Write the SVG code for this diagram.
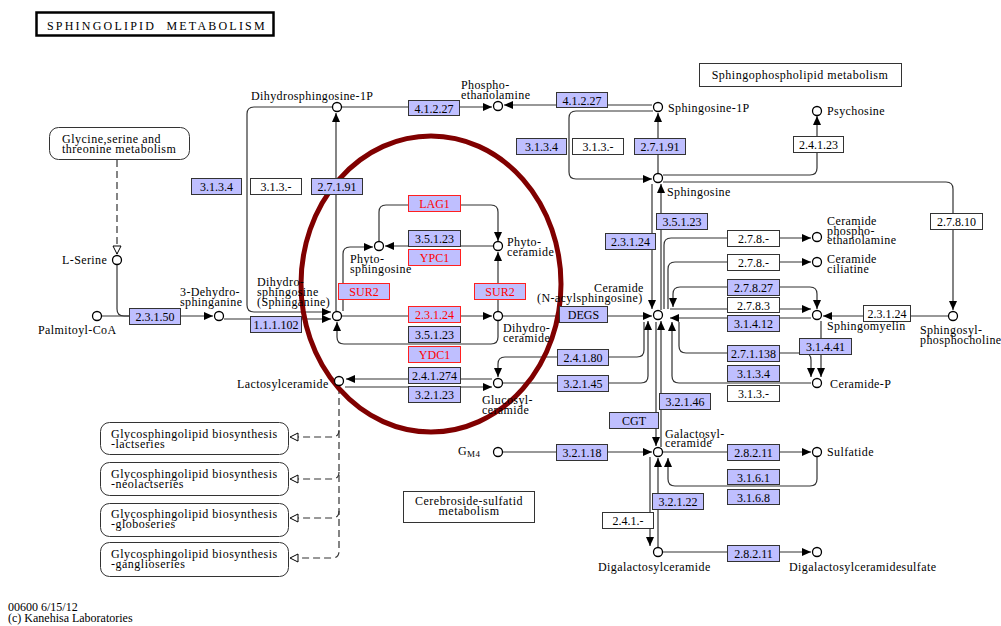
<svg xmlns="http://www.w3.org/2000/svg" width="1001" height="626" viewBox="0 0 1001 626">
<style>
text{font-family:"Liberation Serif","Times New Roman",serif;font-size:12px;fill:#000}
.e rect{fill:#bfbfff;stroke:#333;stroke-width:1}
.w rect{fill:#fff;stroke:#333;stroke-width:1}
.r rect{fill:#bfbfff;stroke:#ff2020;stroke-width:1}
.e text,.w text,.r text{text-anchor:middle}
.r text{fill:#ff0000}
.c circle{fill:#fff;stroke:#000;stroke-width:1.3}
.c text{letter-spacing:0.4px}
.m rect{fill:#fff;stroke:#333;stroke-width:1}
.m text{letter-spacing:0.5px}
.ln path{fill:none;stroke:#333;stroke-width:1.2}
.ln .d{stroke-dasharray:7 4}
.ln .ar{marker-end:url(#a)}
.ln .bi{marker-start:url(#a);marker-end:url(#a)}
.ln .ho{marker-end:url(#h)}
</style>
<defs>
<marker id="a" viewBox="0 0 9 8" refX="9" refY="4" markerWidth="9" markerHeight="8" markerUnits="userSpaceOnUse" orient="auto-start-reverse"><path d="M0,0 L9,4 L0,8 z" fill="#000"/></marker>
<marker id="h" viewBox="0 0 10 10" refX="9" refY="5" markerWidth="10" markerHeight="10" markerUnits="userSpaceOnUse" orient="auto"><path d="M1,1 L9,5 L1,9 z" fill="#fff" stroke="#000" stroke-width="1"/></marker>
</defs>
<rect width="1001" height="626" fill="#fff"/>

<g id="title">
<rect x="36.5" y="12.5" width="237" height="23" fill="#fff" stroke="#000" stroke-width="2.5"/>
<text x="47" y="30" font-size="14" letter-spacing="2.2" xml:space="preserve">SPHINGOLIPID  METABOLISM</text>
</g>

<g id="connectors" class="ln">
<path class="ar" d="M102,316 H213"/>
<path d="M117,265 V309 Q117,316 124,316 H130"/>
<path class="d ho" d="M117,160 V254"/>
<path class="ar" d="M224,319 H331"/>
<path class="ar" d="M332,107 H254 Q247,107 247,114 V305 Q247,312 254,312 H331"/>
<path class="ar" d="M336,311 V113"/>
<path class="ar" d="M342,107 H492"/>
<path class="ar" d="M652,105 H504"/>
<path class="ar" d="M658,173 V113"/>
<path class="ar" d="M653,111 H576 Q569,111 569,118 V172 Q569,179 576,179 H652"/>
<path class="ar" d="M663,175 H810 Q817,175 817,168 V116"/>
<path class="ar" d="M663,182 H946 Q953,182 953,189 V310"/>
<path class="ar" d="M652,184 V309"/>
<path class="ar" d="M661,310 V184"/>
<path class="ar" d="M664,309 V245 Q664,238 671,238 H811"/>
<path class="ar" d="M668,309 V269 Q668,262 675,262 H811"/>
<path class="bi" d="M673,307 V294 Q673,287 680,287 H810 Q817,287 817,294 V309"/>
<path class="ar" d="M670,309 H811"/>
<path class="ar" d="M811,318 H670"/>
<path class="ar" d="M948,316 H823"/>
<path class="ar" d="M644,322 V350 Q644,357 637,357 H505 Q498,357 498,364 V377"/>
<path class="ar" d="M503,383 H641 Q648,383 648,376 V321"/>
<path class="ar" d="M656,322 V446"/>
<path class="ar" d="M661,447 V321"/>
<path class="ar" d="M679,322 V346 Q679,353 686,353 H804 Q811,353 811,360 V377"/>
<path class="ar" d="M811,383 H679 Q672,383 672,376 V322"/>
<path class="ar" d="M821,321 V377"/>
<path class="ar" d="M503,316 H652"/>
<path class="ar" d="M342,316 H492"/>
<path class="ar" d="M498,321 V337 Q498,344 491,344 H344 Q337,344 337,337 V322"/>
<path class="ar" d="M343,311 V254 Q343,247 350,247 H373"/>
<path class="ar" d="M498,311 V252"/>
<path class="ar" d="M379,242 V212 Q379,205 386,205 H491 Q498,205 498,212 V241"/>
<path class="ar" d="M493,246 H385"/>
<path class="ar" d="M492,379 H346"/>
<path class="ar" d="M345,387 H492"/>
<path class="d ho" d="M339,387 V551 Q339,558 332,558 H290"/>
<path class="d ho" d="M339,430 Q339,437 332,437 H290"/>
<path class="d ho" d="M339,472 Q339,479 332,479 H290"/>
<path class="d ho" d="M339,511 Q339,518 332,518 H290"/>
<path class="ar" d="M503,452 H652"/>
<path class="ar" d="M663,452 H811"/>
<path class="ar" d="M817,457 V479 Q817,486 810,486 H675 Q668,486 668,479 V458"/>
<path class="ar" d="M650,457 V546"/>
<path class="ar" d="M658,547 V458"/>
<path class="ar" d="M663,552 H811"/>
</g>

<g id="ellipse"><ellipse cx="431" cy="284" rx="130" ry="148" fill="none" stroke="#800000" stroke-width="5"/></g>

<g id="maps" class="m">
<g id="map-glycine"><rect x="49.5" y="127.5" width="140" height="32" rx="9"/><text x="62" y="143">Glycine,serine and<tspan x="62" dy="10">threonine metabolism</tspan></text></g>
<g id="map-sphingophospholipid"><rect x="699.5" y="63.5" width="202" height="23"/><text x="800" y="79" text-anchor="middle">Sphingophospholipid metabolism</text></g>
<g id="map-gsl-lacto"><rect x="100.5" y="422.5" width="188" height="32" rx="9"/><text x="111" y="438">Glycosphingolipid biosynthesis<tspan x="111" dy="10">-lactseries</tspan></text></g>
<g id="map-gsl-neolacto"><rect x="100.5" y="462.5" width="188" height="33" rx="9"/><text x="111" y="478">Glycosphingolipid biosynthesis<tspan x="111" dy="10">-neolactseries</tspan></text></g>
<g id="map-gsl-globo"><rect x="100.5" y="503.5" width="188" height="33" rx="9"/><text x="111" y="518">Glycosphingolipid biosynthesis<tspan x="111" dy="10">-globoseries</tspan></text></g>
<g id="map-gsl-ganglio"><rect x="100.5" y="542.5" width="188" height="34" rx="9"/><text x="111" y="558">Glycosphingolipid biosynthesis<tspan x="111" dy="10">-ganglioseries</tspan></text></g>
<g id="map-cerebroside"><rect x="403.5" y="491.5" width="131" height="31"/><text x="469" y="505" text-anchor="middle">Cerebroside-sulfatid<tspan x="469" dy="10">metabolism</tspan></text></g>
</g>

<g id="enzymes">
<g id="e1" class="e"><rect x="408.5" y="100.5" width="51" height="15"/><text x="434" y="112.5">4.1.2.27</text></g>
<g id="e2" class="e"><rect x="556.5" y="92.5" width="51" height="15"/><text x="582" y="104.5">4.1.2.27</text></g>
<g id="e3" class="e"><rect x="191.5" y="178.5" width="50" height="16"/><text x="216.5" y="191">3.1.3.4</text></g>
<g id="e4" class="w"><rect x="250.5" y="178.5" width="51" height="16"/><text x="276" y="191">3.1.3.-</text></g>
<g id="e5" class="e"><rect x="311.5" y="178.5" width="51" height="16"/><text x="337" y="191">2.7.1.91</text></g>
<g id="e6" class="e"><rect x="516.5" y="138.5" width="50" height="16"/><text x="541.5" y="151">3.1.3.4</text></g>
<g id="e7" class="w"><rect x="572.5" y="138.5" width="51" height="16"/><text x="598" y="151">3.1.3.-</text></g>
<g id="e8" class="e"><rect x="634.5" y="138.5" width="51" height="16"/><text x="660" y="151">2.7.1.91</text></g>
<g id="e9" class="w"><rect x="793.5" y="136.5" width="50" height="16"/><text x="818.5" y="149">2.4.1.23</text></g>
<g id="e10" class="w"><rect x="930.5" y="213.5" width="52" height="16"/><text x="956.5" y="226">2.7.8.10</text></g>
<g id="e11" class="e"><rect x="656.5" y="213.5" width="51" height="16"/><text x="682" y="226">3.5.1.23</text></g>
<g id="e12" class="e"><rect x="605.5" y="233.5" width="50" height="16"/><text x="630.5" y="246">2.3.1.24</text></g>
<g id="e13" class="w"><rect x="727.5" y="230.5" width="52" height="16"/><text x="753.5" y="243">2.7.8.-</text></g>
<g id="e14" class="w"><rect x="727.5" y="254.5" width="52" height="16"/><text x="753.5" y="267">2.7.8.-</text></g>
<g id="e15" class="e"><rect x="727.5" y="279.5" width="52" height="16"/><text x="753.5" y="292">2.7.8.27</text></g>
<g id="e16" class="w"><rect x="727.5" y="297.5" width="52" height="15"/><text x="753.5" y="309.5">2.7.8.3</text></g>
<g id="e17" class="e"><rect x="727.5" y="315.5" width="52" height="16"/><text x="753.5" y="328">3.1.4.12</text></g>
<g id="e18" class="w"><rect x="863.5" y="305.5" width="47" height="16"/><text x="887" y="318">2.3.1.24</text></g>
<g id="e19" class="e"><rect x="799.5" y="338.5" width="52" height="16"/><text x="825.5" y="351">3.1.4.41</text></g>
<g id="e20" class="e"><rect x="727.5" y="345.5" width="52" height="16"/><text x="753.5" y="358">2.7.1.138</text></g>
<g id="e21" class="e"><rect x="727.5" y="365.5" width="52" height="16"/><text x="753.5" y="378">3.1.3.4</text></g>
<g id="e22" class="w"><rect x="727.5" y="385.5" width="52" height="16"/><text x="753.5" y="398">3.1.3.-</text></g>
<g id="e23" class="e"><rect x="129.5" y="308.5" width="51" height="16"/><text x="155" y="321">2.3.1.50</text></g>
<g id="e24" class="e"><rect x="250.5" y="316.5" width="51" height="16"/><text x="276" y="329">1.1.1.102</text></g>
<g id="e25" class="r"><rect x="408.5" y="195.5" width="52" height="16"/><text x="434.5" y="208">LAG1</text></g>
<g id="e26" class="e"><rect x="408.5" y="230.5" width="52" height="16"/><text x="434.5" y="243">3.5.1.23</text></g>
<g id="e27" class="r"><rect x="408.5" y="249.5" width="52" height="16"/><text x="434.5" y="262">YPC1</text></g>
<g id="e28" class="r"><rect x="338.5" y="283.5" width="51" height="16"/><text x="364" y="296">SUR2</text></g>
<g id="e29" class="r"><rect x="474.5" y="283.5" width="51" height="16"/><text x="500" y="296">SUR2</text></g>
<g id="e30" class="r"><rect x="408.5" y="306.5" width="52" height="16"/><text x="434.5" y="319">2.3.1.24</text></g>
<g id="e31" class="e"><rect x="408.5" y="326.5" width="52" height="16"/><text x="434.5" y="339">3.5.1.23</text></g>
<g id="e32" class="r"><rect x="408.5" y="346.5" width="52" height="16"/><text x="434.5" y="359">YDC1</text></g>
<g id="e33" class="e"><rect x="408.5" y="367.5" width="52" height="16"/><text x="434.5" y="380">2.4.1.274</text></g>
<g id="e34" class="e"><rect x="408.5" y="386.5" width="52" height="16"/><text x="434.5" y="399">3.2.1.23</text></g>
<g id="e35" class="e"><rect x="559.5" y="306.5" width="48" height="16"/><text x="583.5" y="319">DEGS</text></g>
<g id="e36" class="e"><rect x="557.5" y="349.5" width="51" height="16"/><text x="583" y="362">2.4.1.80</text></g>
<g id="e37" class="e"><rect x="557.5" y="375.5" width="51" height="16"/><text x="583" y="388">3.2.1.45</text></g>
<g id="e38" class="e"><rect x="659.5" y="393.5" width="51" height="16"/><text x="685" y="406">3.2.1.46</text></g>
<g id="e39" class="e"><rect x="609.5" y="412.5" width="49" height="16"/><text x="634" y="425">CGT</text></g>
<g id="e40" class="e"><rect x="556.5" y="444.5" width="51" height="16"/><text x="582" y="457">3.2.1.18</text></g>
<g id="e41" class="e"><rect x="727.5" y="444.5" width="52" height="16"/><text x="753.5" y="457">2.8.2.11</text></g>
<g id="e42" class="e"><rect x="727.5" y="469.5" width="52" height="15"/><text x="753.5" y="481.5">3.1.6.1</text></g>
<g id="e43" class="e"><rect x="727.5" y="489.5" width="52" height="15"/><text x="753.5" y="501.5">3.1.6.8</text></g>
<g id="e44" class="e"><rect x="652.5" y="493.5" width="51" height="16"/><text x="678" y="506">3.2.1.22</text></g>
<g id="e45" class="w"><rect x="602.5" y="512.5" width="51" height="16"/><text x="628" y="525">2.4.1.-</text></g>
<g id="e46" class="e"><rect x="727.5" y="545.5" width="52" height="16"/><text x="753.5" y="558">2.8.2.11</text></g>
</g>

<g id="compounds" class="c">
<g id="c-dhs1p"><circle cx="337" cy="107" r="4.5"/><text x="251" y="100">Dihydrosphingosine-1P</text></g>
<g id="c-pe"><circle cx="498" cy="106" r="4.5"/><text x="461" y="89">Phospho-<tspan x="461" dy="10">ethanolamine</tspan></text></g>
<g id="c-s1p"><circle cx="658" cy="107" r="4.5"/><text x="668" y="112">Sphingosine-1P</text></g>
<g id="c-psy"><circle cx="817" cy="111" r="4.5"/><text x="827" y="115">Psychosine</text></g>
<g id="c-sph"><circle cx="658" cy="178" r="4.5"/><text x="667" y="196">Sphingosine</text></g>
<g id="c-ser"><circle cx="117" cy="260" r="4.5"/><text x="62" y="264">L-Serine</text></g>
<g id="c-pal"><circle cx="97" cy="316" r="4.5"/><text x="38" y="334">Palmitoyl-CoA</text></g>
<g id="c-kds"><circle cx="219" cy="316" r="4.5"/><text x="180" y="296">3-Dehydro-<tspan x="180" dy="10">sphinganine</tspan></text></g>
<g id="c-dhs"><circle cx="337" cy="316" r="4.5"/><text x="257" y="286">Dihydro-<tspan x="257" dy="10">sphingosine</tspan><tspan x="257" dy="10">(Sphinganine)</tspan></text></g>
<g id="c-phs"><circle cx="379" cy="246" r="4.5"/><text x="350" y="263">Phyto-<tspan x="350" dy="10">sphingosine</tspan></text></g>
<g id="c-phc"><circle cx="498" cy="246" r="4.5"/><text x="507" y="246">Phyto-<tspan x="507" dy="10">ceramide</tspan></text></g>
<g id="c-dhc"><circle cx="498" cy="316" r="4.5"/><text x="503" y="332">Dihydro-<tspan x="503" dy="10">ceramide</tspan></text></g>
<g id="c-cer"><circle cx="658" cy="315" r="4.5"/><text x="594" y="292">Ceramide<tspan x="537" dy="10">(N-acylsphingosine)</tspan></text></g>
<g id="c-cpe"><circle cx="817" cy="237" r="4.5"/><text x="827" y="225">Ceramide<tspan x="827" dy="9.5">phospho-</tspan><tspan x="827" dy="9.5">ethanolamine</tspan></text></g>
<g id="c-cci"><circle cx="817" cy="262" r="4.5"/><text x="827" y="263">Ceramide<tspan x="827" dy="10">ciliatine</tspan></text></g>
<g id="c-sm"><circle cx="817" cy="315" r="4.5"/><text x="827" y="330">Sphingomyelin</text></g>
<g id="c-spc"><circle cx="953" cy="316" r="4.5"/><text x="920" y="334">Sphingosyl-<tspan x="920" dy="9.5">phosphocholine</tspan></text></g>
<g id="c-c1p"><circle cx="817" cy="383" r="4.5"/><text x="830" y="388">Ceramide-P</text></g>
<g id="c-lac"><circle cx="339" cy="381" r="4.5"/><text x="237" y="388">Lactosylceramide</text></g>
<g id="c-glc"><circle cx="498" cy="383" r="4.5"/><text x="482" y="404">Glucosyl-<tspan x="482" dy="10">ceramide</tspan></text></g>
<g id="c-gm4"><circle cx="498" cy="452" r="4.5"/><text x="458" y="455">G<tspan font-size="9" dy="2">M4</tspan></text></g>
<g id="c-gal"><circle cx="658" cy="452" r="4.5"/><text x="665" y="438">Galactosyl-<tspan x="665" dy="9">ceramide</tspan></text></g>
<g id="c-sulf"><circle cx="817" cy="452" r="4.5"/><text x="827" y="456">Sulfatide</text></g>
<g id="c-digal"><circle cx="658" cy="552" r="4.5"/><text x="598" y="571">Digalactosylceramide</text></g>
<g id="c-digals"><circle cx="817" cy="552" r="4.5"/><text x="789" y="571">Digalactosylceramidesulfate</text></g>
</g>

<g id="footer">
<text x="8" y="611">00600 6/15/12</text>
<text x="8" y="622">(c) Kanehisa Laboratories</text>
</g>
</svg>
